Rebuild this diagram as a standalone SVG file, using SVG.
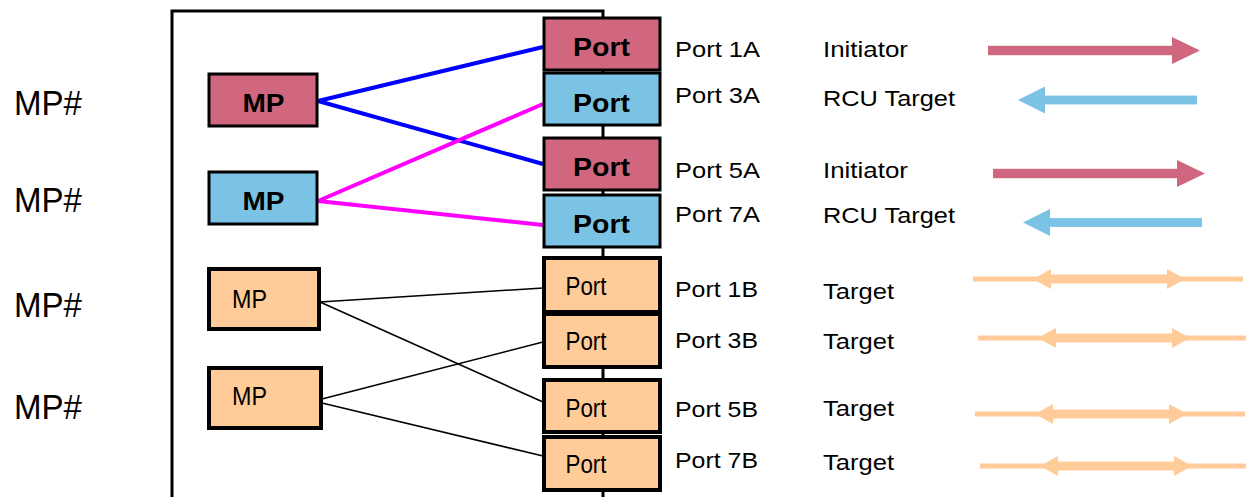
<svg xmlns="http://www.w3.org/2000/svg" xmlns:xlink="http://www.w3.org/1999/xlink" width="1246" height="497" viewBox="0 0 1246 497">
<style>
.t{font-family:"Liberation Sans",Arial,sans-serif;fill:#000}
.mp{font-size:35px}
.lbl{font-size:22px}
.b{font-weight:bold;font-size:25px}
.r{font-size:25px}
.red{fill:#D0677F;stroke:#000;stroke-width:3}
.blu{fill:#7BC3E5;stroke:#000;stroke-width:3}
.org{fill:#FFCC99;stroke:#000;stroke-width:4}
.frame{fill:none;stroke:#000;stroke-width:3}
</style>
<defs>
<g id="dbl">
<line x1="0" y1="0" x2="270" y2="0" stroke="#FFCC99" stroke-width="5"/>
<line x1="76" y1="0" x2="196" y2="0" stroke="#FFCC99" stroke-width="9"/>
<polygon points="60,0 78,-10 78,10" fill="#FFCC99"/>
<polygon points="212,0 194,-10 194,10" fill="#FFCC99"/>
</g>
<g id="rarr">
<rect x="0" y="-4.7" width="186" height="9.4" fill="#D0677F"/>
<polygon points="184,-13.5 212,0 184,13.5" fill="#D0677F"/>
</g>
<g id="larr">
<rect x="25" y="-4.4" width="154" height="8.8" fill="#7BC3E5"/>
<polygon points="27,-13.5 0,0 27,13.5" fill="#7BC3E5"/>
</g>
</defs>

<g id="frame">
<polyline class="frame" points="172,497 172,11 603,11 603,497"/>
</g>

<g id="labels-left">
<text class="t mp" x="14" y="115" textLength="68" lengthAdjust="spacingAndGlyphs">MP#</text>
<text class="t mp" x="14" y="212" textLength="68" lengthAdjust="spacingAndGlyphs">MP#</text>
<text class="t mp" x="14" y="317" textLength="68" lengthAdjust="spacingAndGlyphs">MP#</text>
<text class="t mp" x="14" y="419" textLength="68" lengthAdjust="spacingAndGlyphs">MP#</text>
</g>

<g id="connectors">
<line x1="318" y1="101" x2="543" y2="47" stroke="#0000FF" stroke-width="4"/>
<line x1="318" y1="101" x2="543" y2="164" stroke="#0000FF" stroke-width="4"/>
<line x1="318" y1="201" x2="543" y2="104" stroke="#FF00FF" stroke-width="4"/>
<line x1="318" y1="201" x2="543" y2="225" stroke="#FF00FF" stroke-width="4"/>
<line x1="320" y1="302" x2="543" y2="288" stroke="#000" stroke-width="1.6"/>
<line x1="320" y1="302" x2="543" y2="402" stroke="#000" stroke-width="1.6"/>
<line x1="322" y1="399" x2="543" y2="342" stroke="#000" stroke-width="1.6"/>
<line x1="322" y1="403" x2="543" y2="456" stroke="#000" stroke-width="1.6"/>
</g>

<g id="mp1">
<rect class="red" x="209" y="74" width="108" height="52"/>
<text class="t b" x="242.5" y="112" textLength="42" lengthAdjust="spacingAndGlyphs">MP</text>
</g>
<g id="mp2">
<rect class="blu" x="209" y="172" width="108" height="52"/>
<text class="t b" x="242.5" y="210" textLength="42" lengthAdjust="spacingAndGlyphs">MP</text>
</g>
<g id="mp3">
<rect class="org" x="209" y="269" width="110" height="60"/>
<text class="t r" x="232" y="308" textLength="35" lengthAdjust="spacingAndGlyphs">MP</text>
</g>
<g id="mp4">
<rect class="org" x="209" y="368" width="112" height="60"/>
<text class="t r" x="232" y="405" textLength="35" lengthAdjust="spacingAndGlyphs">MP</text>
</g>

<g id="port1A">
<rect class="red" x="544" y="18" width="116" height="52"/>
<text class="t b" x="573" y="56" textLength="57" lengthAdjust="spacingAndGlyphs">Port</text>
</g>
<g id="port3A">
<rect class="blu" x="544" y="73" width="116" height="52"/>
<text class="t b" x="573" y="112" textLength="57" lengthAdjust="spacingAndGlyphs">Port</text>
</g>
<g id="port5A">
<rect class="red" x="544" y="138" width="116" height="52"/>
<text class="t b" x="573" y="176" textLength="57" lengthAdjust="spacingAndGlyphs">Port</text>
</g>
<g id="port7A">
<rect class="blu" x="544" y="195" width="116" height="52"/>
<text class="t b" x="573" y="233" textLength="57" lengthAdjust="spacingAndGlyphs">Port</text>
</g>
<g id="port1B">
<rect class="org" x="544" y="258" width="116" height="54"/>
<text class="t r" x="565.5" y="295" textLength="41" lengthAdjust="spacingAndGlyphs">Port</text>
</g>
<g id="port3B">
<rect class="org" x="544" y="314" width="116" height="53"/>
<text class="t r" x="565.5" y="350" textLength="41" lengthAdjust="spacingAndGlyphs">Port</text>
</g>
<g id="port5B">
<rect class="org" x="544" y="380" width="116" height="52"/>
<text class="t r" x="565.5" y="417" textLength="41" lengthAdjust="spacingAndGlyphs">Port</text>
</g>
<g id="port7B">
<rect class="org" x="544" y="437" width="116" height="53"/>
<text class="t r" x="565.5" y="473" textLength="41" lengthAdjust="spacingAndGlyphs">Port</text>
</g>

<g id="port-labels">
<text class="t lbl" x="675" y="57" textLength="85" lengthAdjust="spacingAndGlyphs">Port 1A</text>
<text class="t lbl" x="675" y="103" textLength="85" lengthAdjust="spacingAndGlyphs">Port 3A</text>
<text class="t lbl" x="675" y="178" textLength="85" lengthAdjust="spacingAndGlyphs">Port 5A</text>
<text class="t lbl" x="675" y="222" textLength="85" lengthAdjust="spacingAndGlyphs">Port 7A</text>
<text class="t lbl" x="675" y="297" textLength="83" lengthAdjust="spacingAndGlyphs">Port 1B</text>
<text class="t lbl" x="675" y="348" textLength="83" lengthAdjust="spacingAndGlyphs">Port 3B</text>
<text class="t lbl" x="675" y="417" textLength="83" lengthAdjust="spacingAndGlyphs">Port 5B</text>
<text class="t lbl" x="675" y="468" textLength="83" lengthAdjust="spacingAndGlyphs">Port 7B</text>
</g>

<g id="roles">
<text class="t lbl" x="823" y="57" textLength="85" lengthAdjust="spacingAndGlyphs">Initiator</text>
<text class="t lbl" x="823" y="106" textLength="132" lengthAdjust="spacingAndGlyphs">RCU Target</text>
<text class="t lbl" x="823" y="178" textLength="85" lengthAdjust="spacingAndGlyphs">Initiator</text>
<text class="t lbl" x="823" y="223" textLength="132" lengthAdjust="spacingAndGlyphs">RCU Target</text>
<text class="t lbl" x="823" y="299" textLength="71" lengthAdjust="spacingAndGlyphs">Target</text>
<text class="t lbl" x="823" y="349" textLength="71" lengthAdjust="spacingAndGlyphs">Target</text>
<text class="t lbl" x="823" y="416" textLength="71" lengthAdjust="spacingAndGlyphs">Target</text>
<text class="t lbl" x="823" y="470" textLength="71" lengthAdjust="spacingAndGlyphs">Target</text>
</g>

<g id="arrows">
<use xlink:href="#rarr" href="#rarr" transform="translate(988,50.5)"/>
<use xlink:href="#larr" href="#larr" transform="translate(1018,100)"/>
<use xlink:href="#rarr" href="#rarr" transform="translate(993,173.5)"/>
<use xlink:href="#larr" href="#larr" transform="translate(1023,222.5)"/>
<use xlink:href="#dbl" href="#dbl" transform="translate(973,279)"/>
<use xlink:href="#dbl" href="#dbl" transform="translate(978,338)"/>
<use xlink:href="#dbl" href="#dbl" transform="translate(975,414)"/>
<use xlink:href="#dbl" href="#dbl" transform="translate(980,466)"/>
</g>
</svg>
